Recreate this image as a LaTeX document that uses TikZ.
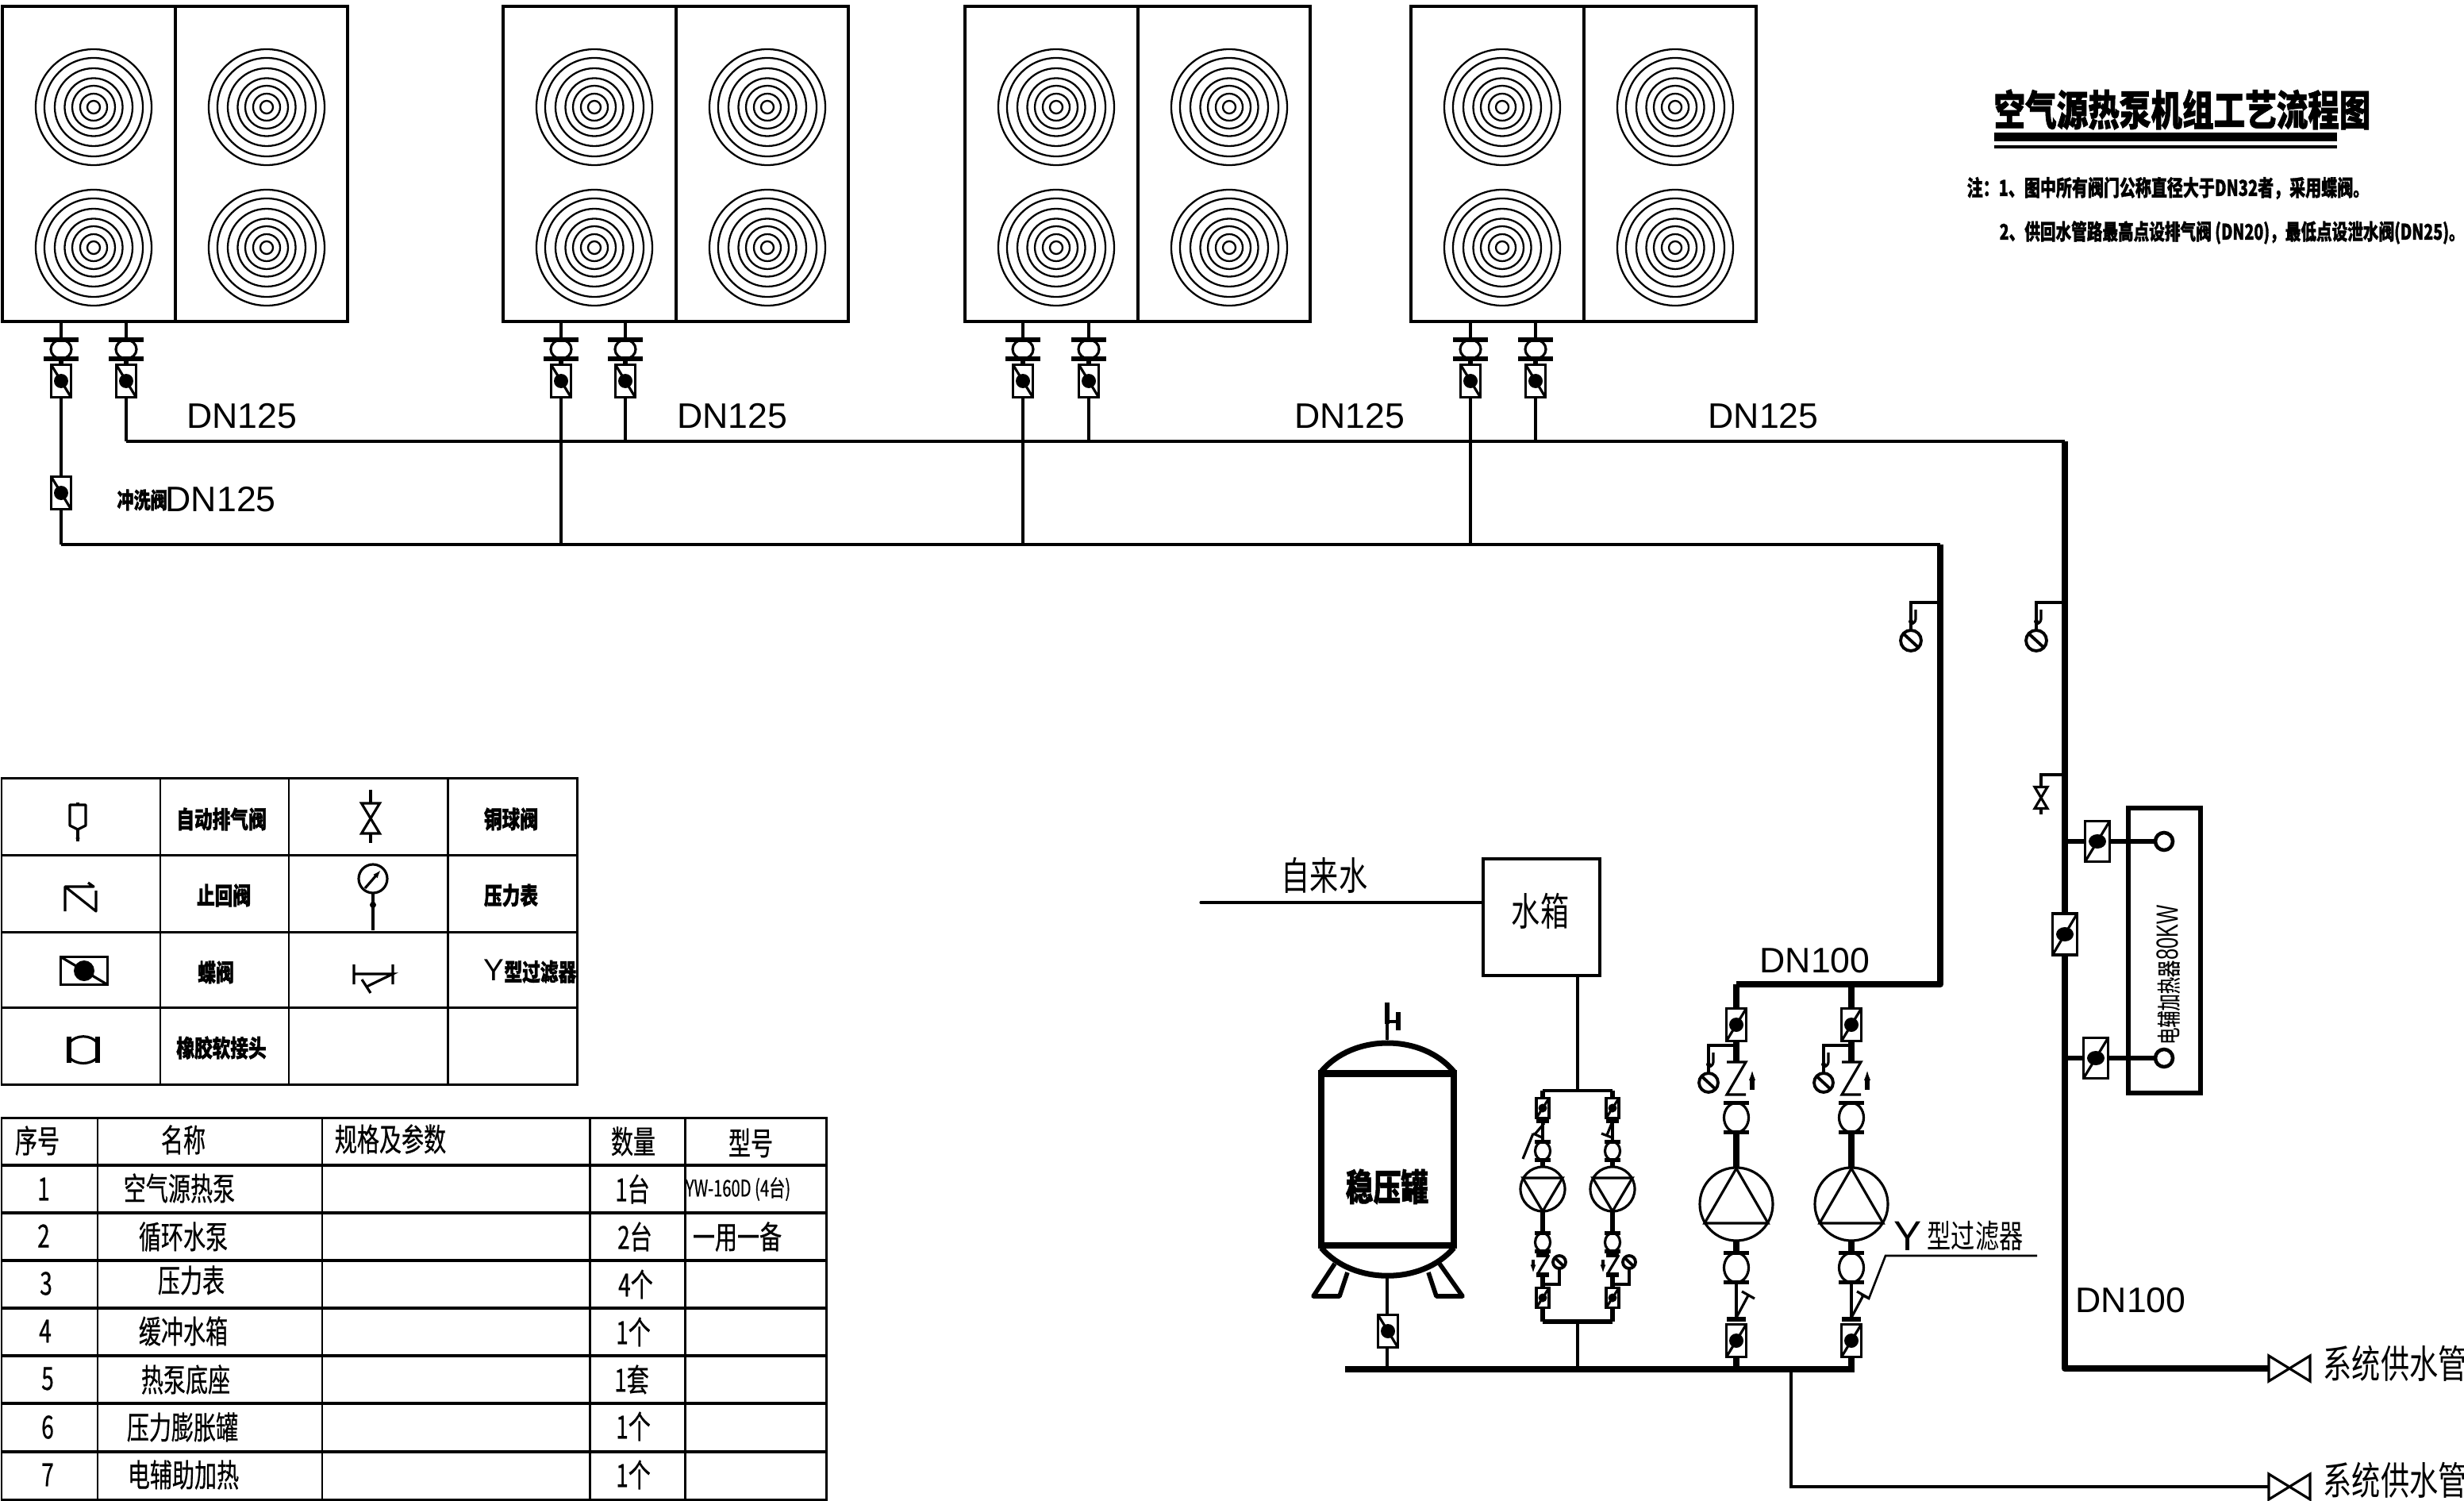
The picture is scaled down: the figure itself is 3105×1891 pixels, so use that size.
\documentclass[tikz,border=0pt]{standalone}
\usepackage{fontspec}
\setmainfont{Liberation Sans}
\newfontfamily\dnfont{Liberation Sans}
\newfontfamily\dnnarrow[FakeStretch=0.66]{Liberation Sans}
\newfontfamily\cjkreg[FakeStretch=0.74]{Noto Sans CJK SC}
\newfontfamily\cjktab[FakeStretch=0.7,FakeBold=0.5]{Noto Sans CJK SC}
\newfontfamily\cjkheavy[FakeStretch=0.75,BoldFeatures={FakeBold=1.2}]{Noto Sans CJK SC}
\newfontfamily\cjknote[FakeStretch=0.72,BoldFeatures={FakeBold=1.2}]{Noto Sans CJK SC}
\usetikzlibrary{arrows.meta,calc}

\tikzset{
    pipe/.style={line width=0.9pt},
    medpipe/.style={line width=1.5pt},
    mainpipe/.style={line width=2.5pt},
    leader/.style={line width=0.75pt},
    fanring/.style={line width=0.65pt},
    gridline/.style={line width=0.85pt},
    dnlabel/.style={font=\dnfont\fontsize{12.7}{12.7}\selectfont,inner sep=0pt},
    bigcn/.style={font=\cjkreg\fontsize{13.9}{13.9}\selectfont,inner sep=0pt},
    tabcn/.style={font=\cjktab\fontsize{11.4}{11.4}\selectfont,inner sep=0pt},
    legendcn/.style={font=\cjkheavy\bfseries\fontsize{8.6}{8.6}\selectfont,inner sep=0pt},
    notecn/.style={font=\cjknote\bfseries\fontsize{7.9}{7.9}\selectfont,inner sep=0pt,anchor=west},
    % butterfly valve: half width, half height, dot radii
    pics/bfvalve/.style n args={4}{code={
        \draw[pipe,fill=white] (-#1,-#2) rectangle (#1,#2);
        \draw[pipe] (-#1,-#2) -- (#1,#2);
        \fill (0,0) ellipse ({#3} and {#4});
    }},
    % rubber joint: half flange, half height, half bulge
    pics/softjoint/.style n args={3}{code={
        \draw[pipe,fill=white] (0,0) ellipse ({#3} and {#2});
        \draw[medpipe] (-#1,-#2) -- (#1,-#2) (-#1,#2) -- (#1,#2);
    }},
    pics/bowtie/.style 2 args={code={
        \draw[pipe,fill=white] (-#1,-#2) -- (#1,#2) -- (#1,-#2) -- (-#1,#2) -- cycle;
    }},
    pics/gauge/.style={code={
        \draw[pipe,line width=1.1pt,fill=white] (0,0) circle (#1);
        \draw[pipe,line width=1.1pt] (-#1*0.65,-#1*0.6) -- (#1*0.65,#1*0.6);
    }},
    % dot and hook on a gauge stem
    pics/gaugetap/.style={code={
        \fill (0,0) circle (#1);
        \draw[pipe] (#1*2,-#1*5) -- (#1*2,-#1) to[bend left=40] (0,#1);
    }},
    pics/fan/.style={code={
        \foreach \r in {73,62,49,36.5,27,17,8} \draw[fanring] (0,0) circle (\r);
    }},
    % y values in the next three are absolute, only x is local
    pics/hpunit/.style={code={
        \draw[pipe] (0,8) rectangle (435,405);
        \draw[pipe] (218,8) -- (218,405);
        \pic at (115,135) {fan};
        \pic at (333,135) {fan};
        \pic at (115,312) {fan};
        \pic at (333,312) {fan};
    }},
    pics/bigpump/.style={code={
        \draw[mainpipe] (0,1240) -- (0,1338) (0,1426) -- (0,1472) (0,1563) -- (0,1579) (0,1710) -- (0,1725);
        \pic[xscale=-1] at (0,1291) {bfvalve={12.5}{20.5}{9}{9}};
        \draw[pipe] (0,1317) -- (-35,1317) -- (-35,1353);
        \pic at (-35,1341) {gaugetap=3};
        \pic at (-35,1364) {gauge=12};
        \draw[pipe] (-12,1338) -- (12,1338) -- (-12,1379) -- (12,1379);
        \draw[medpipe,-{Latex[length=4pt,width=2.4pt]}] (20,1373) -- (20,1347);
        \pic at (0,1408) {softjoint={16}{18.5}{15.5}};
        \draw[pipe,fill=white] (0,1517) circle (46);
        \draw[pipe] (0,1472) -- (40,1541) -- (-40,1541) -- cycle;
        \pic at (0,1597) {softjoint={16}{18.5}{15.5}};
        \draw[pipe] (0,1616) -- (0,1662);
        \draw[medpipe] (-12,1662) -- (12,1662);
        \draw[pipe] (0,1660) -- (15,1632);
        \draw[pipe] (7,1627) -- (23,1636);
        \pic[xscale=-1] at (0,1689) {bfvalve={12.5}{20.5}{9}{9}};
    }},
    % small pump set
    pics/smallpump/.style={code={
        \draw[medpipe] (0,1374) -- (0,1384) (0,1408) -- (0,1412) (0,1462) -- (0,1471) (0,1526) -- (0,1553) (0,1606) -- (0,1623) (0,1647) -- (0,1665);
        \pic[xscale=-1] at (0,1396) {bfvalve={8}{12.5}{5.5}{5.5}};
        \draw[medpipe] (-8,1412) -- (8,1412);
        \draw[pipe] (0,1412) -- (0,1439);
        \pic at (0,1450) {softjoint={10}{11.5}{9.5}};
        \draw[pipe,fill=white] (0,1498) circle (28);
        \draw[pipe] (-25,1484) -- (25,1484) -- (0,1526) -- cycle;
        \pic at (0,1565) {softjoint={10}{11.5}{9.5}};
        \draw[medpipe] (-8,1581) -- (8,1581);
        \draw[pipe] (8,1581) -- (-7,1606);
        \draw[medpipe] (-8,1606) -- (8,1606);
        \draw[pipe,-{Latex[length=3pt,width=2pt]}] (-12,1587) -- (-12,1604);
        \pic at (21,1590) {gauge=8};
        \draw[pipe] (21,1598) -- (21,1618) -- (0,1618);
        \fill (21,1605) circle (2);
        \pic[xscale=-1] at (0,1635) {bfvalve={8}{12.5}{5.5}{5.5}};
    }},
    pics/stemvalve/.style={code={
        \pic at (0,440) {softjoint={22}{12}{13}};
        \draw[medpipe] (0,452) -- (0,459);
        \pic at (0,480) {bfvalve={12.5}{20.5}{9}{9}};
    }},
}

\begin{document}
\begin{tikzpicture}[x=0.01cm,y=-0.01cm]
    \useasboundingbox (0,0) rectangle (3105,1891);

    % heat pump units
    \foreach \ux in {3,634,1216,1778} \pic at (\ux,0) {hpunit};

    % pipe junctions
    \coordinate (retstart) at (77,686);
    \coordinate (retcorner) at (2445,686);
    \coordinate (rethead) at (2445,1240);
    \coordinate (pumpa) at (2188,1240);
    \coordinate (supstart) at (159,556);
    \coordinate (supcorner) at (2602,556);
    \coordinate (supdown) at (2602,1724);
    \coordinate (supvalve) at (2859,1724);
    \coordinate (basea) at (1695,1725);
    \coordinate (baseb) at (2333,1725);
    \coordinate (pumpb) at (2333,1700);
    \coordinate (tee) at (2257,1725);
    \coordinate (teecorner) at (2257,1873);
    \coordinate (retvalve) at (2859,1873);

    \foreach \sx/\sy in {77/686,159/556,707/686,788/556,1289/686,1372/556,1853/686,1935/556} {
        \draw[pipe] (\sx,405) -- (\sx,\sy);
        \pic at (\sx,0) {stemvalve};
    }
    \draw[pipe] (retstart) -- (retcorner);
    \draw[pipe] (supstart) -- (supcorner);
    \draw[mainpipe,line join=round] (retcorner) -- (rethead) -- (pumpa);
    \draw[mainpipe,line join=round] (supcorner) -- (supdown) -- (supvalve);
    \draw[mainpipe] (basea) -- (baseb) -- (pumpb);
    \draw[pipe] (tee) -- (teecorner) -- (retvalve);
    \pic at (77,621) {bfvalve={12.5}{20.5}{9}{9}};

    % gauges and vent on the risers
    \draw[pipe] (2445,759) -- (2408,759) -- (2408,795);
    \pic at (2408,783) {gaugetap=3};
    \pic at (2408,807) {gauge=13};
    \draw[pipe] (2602,759) -- (2566,759) -- (2566,795);
    \pic at (2566,783) {gaugetap=3};
    \pic at (2566,807) {gauge=13};
    \draw[pipe] (2602,976) -- (2572,976) -- (2572,1026);
    \pic[rotate=90] at (2572,1005) {bowtie={13.5}{8}};
    \pic[xscale=-1] at (2602,1177) {bfvalve={15.5}{26}{11}{9}};

    % heater
    \draw[medpipe] (2602,1060) -- (2716,1060) (2602,1333) -- (2716,1333);
    \pic[xscale=-1] at (2643,1060) {bfvalve={15.5}{25.5}{11}{9}};
    \pic[xscale=-1] at (2641,1333) {bfvalve={15.5}{25.5}{11}{9}};
    \draw[mainpipe,line width=1.7pt] (2682,1018) rectangle (2773,1377);
    \draw[medpipe,line width=1.3pt,fill=white] (2727,1060) circle (11);
    \draw[medpipe,line width=1.3pt,fill=white] (2727,1333) circle (11);
    \node[font=\cjktab\fontsize{8.6}{8.6}\selectfont,inner sep=0pt,rotate=90] (heaterlabel) at (2732,1228) {电辅加热器\dnnarrow\fontsize{11}{11}\selectfont 80KW};

    % pumps
    \pic at (2188,0) {bigpump};
    \pic at (2333,0) {bigpump};
    \draw[leader] (2345,1631) -- (2355,1636) -- (2376,1582) -- (2567,1582);
    \node[inner sep=0pt,anchor=west,font=\cjkreg\fontsize{11.6}{11.6}\selectfont] (strainerlabel) at (2428,1557) {型过滤器};
    \node[dnlabel,font=\dnfont\fontsize{15}{15}\selectfont] (strainery) at (2404,1557) {Y};

    \draw[pipe] (1944,1374) -- (2032,1374);
    \draw[medpipe] (1944,1665) -- (2032,1665);
    \pic at (1944,0) {smallpump};
    \pic at (2032,0) {smallpump};
    \draw[pipe] (1946,1415) -- (1934,1429);
    \draw[pipe] (1932,1428) -- (1919,1460);
    \draw[pipe] (1932,1428) -- (1943,1433);
    \draw[pipe] (2031,1415) -- (2025,1430);
    \draw[pipe] (2018,1428) -- (2031,1433);

    % water tank
    \node[draw,pipe,minimum width=147*0.01cm,minimum height=147*0.01cm,inner sep=0pt] (watertank) at (1942.5,1155.5) {};
    \node[bigcn] (tanklabel) at (1941,1148) {水箱};
    \coordinate (cityend) at (1513,1137);
    \coordinate (tankout) at (1988,1229);
    \draw[pipe,line cap=round] (cityend) -- (cityend -| watertank.west);
    \node[bigcn] (citylabel) at (1669,1103) {自来水};
    \coordinate (boxtop) at (1988,1374);
    \coordinate (boxbot) at (1988,1665);
    \coordinate (baseleft) at (1988,1725);
    \draw[pipe] (tankout) -- (boxtop);
    \draw[pipe] (boxbot) -- (baseleft);

    % expansion vessel
    \draw[pipe] (1748,1263) -- (1748,1310);
    \draw[pipe,line width=1.3pt] (1748,1287) -- (1762,1287);
    \draw[medpipe,line width=1.7pt] (1748,1263) -- (1748,1290) (1762,1275) -- (1762,1298);
    \draw[mainpipe,fill=white] (1665,1352.5) rectangle (1832,1569);
    \draw[mainpipe,line width=2pt] (1665,1350) .. controls (1705,1302) and (1792,1302) .. (1832,1350);
    \draw[mainpipe,line width=2pt] (1665,1572) .. controls (1705,1619) and (1792,1619) .. (1832,1572);
    \draw[mainpipe,line width=1.6pt,line join=round] (1682,1592) -- (1655,1633) -- (1688,1633) -- (1698,1603);
    \draw[mainpipe,line width=1.6pt,line join=round] (1814,1592) -- (1843,1633) -- (1810,1633) -- (1800,1603);
    \draw[pipe] (1748,1607) -- (1748,1725);
    \pic at (1749,1677) {bfvalve={12.5}{20.5}{9}{9}};
    \node[inner sep=0pt,font=\cjkheavy\bfseries\fontsize{13.2}{13.2}\selectfont] (vessellabel) at (1748,1495) {稳压罐};

    % outlet valves
    \pic at (2885,1724) {bowtie={26}{16}};
    \pic at (2885,1873) {bowtie={26}{16}};
    \node[bigcn,anchor=west] (outa) at (2927,1718) {系统供水管};
    \node[bigcn,anchor=west] (outb) at (2927,1865) {系统供水管};

    % pipe sizes
    \foreach \dx/\dy/\dn/\dt in {305/524/da/DN125,923/524/db/DN125,1701/524/dc/DN125,2222/524/dd/DN125,2287/1210/de/DN100,2685/1638/df/DN100}
        \node[dnlabel] (\dn) at (\dx,\dy) {\dt};
    \node[dnlabel,anchor=west] (dg) at (208,629) {DN125};
    \node[inner sep=0pt,font=\cjkheavy\bfseries\fontsize{8}{8}\selectfont] (flushlabel) at (179,630) {冲洗阀};

    % title and notes
    \node[inner sep=0pt,font=\cjkheavy\bfseries\fontsize{15}{15}\selectfont] (title) at (2750,138) {空气源热泵机组工艺流程图};
    \fill (2513,167) rectangle (2945,178);
    \draw[pipe] (2513,185) -- (2945,185);
    \node[notecn] (notea) at (2478,237) {注：1、图中所有阀门公称直径大于DN32者，采用蝶阀。};
    \node[notecn,font=\cjknote\bfseries\fontsize{7.75}{7.75}\selectfont] (noteb) at (2519,293) {2、供回水管路最高点设排气阀 (DN20)，最低点设泄水阀(DN25)。};

    % legend grid
    \draw[gridline] (2,980) rectangle (727,1366);
    \foreach \gy in {1077,1174,1269} \draw[gridline] (2,\gy) -- (727,\gy);
    \foreach \gx in {202,364,564} \draw[gridline] (\gx,980) -- (\gx,1366);
    % legend symbols
    \draw[pipe,line join=round] (88,1014) -- (88,1040) -- (98,1045) -- (108,1040) -- (108,1014) -- cycle;
    \draw[pipe] (98,1011) -- (98,1014) (98,1045) -- (98,1060);
    \fill (98,1056) circle (2.5);
    \draw[pipe] (467,995) -- (467,1062);
    \pic[rotate=90] at (467,1031) {bowtie={19}{11.5}};
    \draw[pipe,line join=round] (82,1148) -- (82,1117) -- (118,1117) -- (111,1112) (82,1117) -- (121,1148) -- (121,1122);
    \draw[pipe,fill=white] (470,1107) circle (18);
    \draw[pipe,-{Latex[length=3pt,width=2pt]}] (460,1119) -- (480,1096);
    \draw[pipe] (470,1125) -- (470,1172);
    \fill (470,1140) circle (4);
    \pic at (106,1223) {bfvalve={29.5}{17.5}{13}{13}};
    \draw[pipe] (446,1215) -- (446,1240) (495,1215) -- (495,1240) (446,1227) -- (495,1227) -- (462,1243);
    \draw[pipe] (456,1234) -- (467,1251);
    \draw[medpipe] (87,1306) -- (87,1339) (123,1306) -- (123,1339);
    \draw[pipe] (87,1314) .. controls (96,1303) and (114,1303) .. (123,1314);
    \draw[pipe] (87,1332) .. controls (96,1342) and (114,1342) .. (123,1332);
    % legend texts
    \foreach \lx/\ly/\ln/\lt in {279/1032/la/自动排气阀,644/1032/lb/铜球阀,282/1128/lc/止回阀,644/1128/ld/压力表,272/1225/le/蝶阀,279/1320/lf/橡胶软接头}
        \node[legendcn] (\ln) at (\lx,\ly) {\lt};
    \node[legendcn] (lg) at (668,1224) {{\dnfont\mdseries\fontsize{11}{11}\selectfont Y}型过滤器};

    % parts list
    \draw[gridline] (2,1408) rectangle (1041,1889);
    \foreach \gy in {1468,1528,1588,1648,1708,1768,1829} \draw[gridline,line width=1.1pt] (2,\gy) -- (1041,\gy);
    \foreach \gx in {123,406,743,863} \draw[gridline] (\gx,1408) -- (\gx,1889);
    \foreach \tx/\ty/\tn/\tt in {47/1437/ha/序号,231/1436/hb/名称,492/1435/hc/规格及参数,798/1438/hd/数量,946/1440/he/型号,
        55/1498/ra/1,226/1497/rb/空气源热泵,797/1498/rc/1台,929/1558/rd/一用一备,
        55/1557/re/2,231/1558/rf/循环水泵,800/1558/rg/2台,
        58/1617/rh/3,241/1613/ri/压力表,801/1618/rj/4个,
        57/1677/rk/4,231/1677/rl/缓冲水箱,798/1678/rm/1个,
        60/1737/rn/5,234/1738/ro/热泵底座,796/1738/rp/1套,
        60/1798/rq/6,230/1798/rr/压力膨胀罐,798/1797/rs/1个,
        60/1858/rt/7,231/1858/ru/电辅助加热,798/1858/rv/1个}
        \node[tabcn] (\tn) at (\tx,\ty) {\tt};
    \node[tabcn,font=\cjktab\fontsize{8.2}{8.2}\selectfont] (rw) at (930,1498) {YW-160D (4台)};
\end{tikzpicture}
\end{document}
